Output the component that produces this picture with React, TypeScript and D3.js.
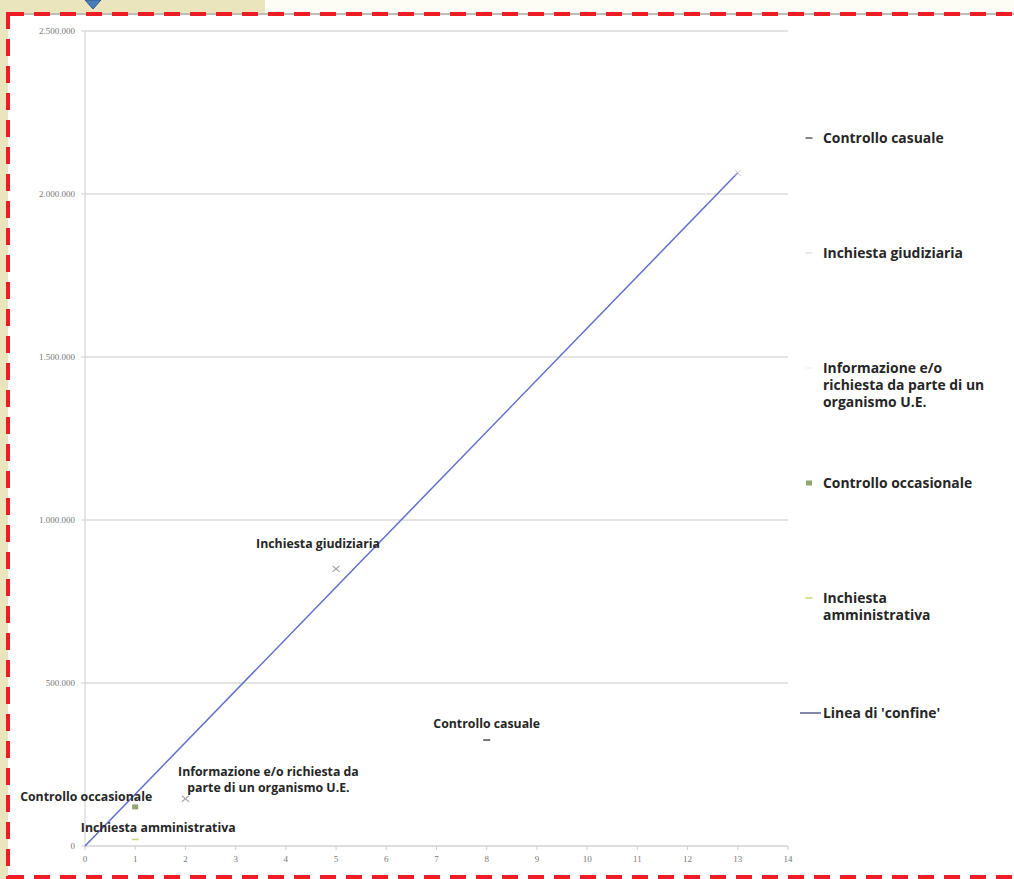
import React from "react";
import * as d3 from "d3";

// ---- data ----
const seriesNames = [
  "Controllo casuale",
  "Inchiesta giudiziaria",
  "Informazione e/o richiesta da parte di un organismo U.E.",
  "Controllo occasionale",
  "Inchiesta amministrativa",
];
const seriesX = [8, 5, 2, 1, 1];
const seriesY = [325000, 850000, 145000, 120000, 20000];
const pointLabelLines = [
  ["Controllo casuale"],
  ["Inchiesta giudiziaria"],
  ["Informazione e/o richiesta da", "parte di un organismo U.E."],
  ["Controllo occasionale"],
  ["Inchiesta amministrativa"],
];
const legendLines = [
  ["Controllo casuale"],
  ["Inchiesta giudiziaria"],
  ["Informazione e/o", "richiesta da parte di un", "organismo U.E."],
  ["Controllo occasionale"],
  ["Inchiesta", "amministrativa"],
];
const lineName = "Linea di 'confine'";
const lineX = [0, 13];
const lineY = [0, 2065000];
const xTicks = d3.range(0, 15);
const yTicks = [0, 500000, 1000000, 1500000, 2000000, 2500000];

// ---- styles ----
const markerType = ["dash", "x", "x", "square", "dash"];
const markerColor = ["#555555", "#9a9a9a", "#a8a8a8", "#93a672", "#c4d77f"];
const legendMarkerColor = ["#666666", "#e2e2e2", "#f4f4f4", "#93a672", "#c4d77f"];
const labelDx = [0, -18, 83, -49, 23];
const labelDy = [-12, -21, -23, -6, -7];

const locale = d3.formatLocale({ decimal: ",", thousands: ".", grouping: [3], currency: ["", ""] });
const fmt = locale.format(",");

function Marker({ type, x, y, color }: { type: string; x: number; y: number; color: string }) {
  if (type === "dash") return <line x1={x - 3.5} x2={x + 3.5} y1={y} y2={y} stroke={color} strokeWidth={1.6} />;
  if (type === "square") return <rect x={x - 3} y={y - 2.5} width={6} height={5} fill={color} />;
  return (
    <g stroke={color} strokeWidth={1.1}>
      <line x1={x - 3.5} y1={y - 3} x2={x + 3.5} y2={y + 3} />
      <line x1={x - 3.5} y1={y + 3} x2={x + 3.5} y2={y - 3} />
    </g>
  );
}

export default function App() {
  const W = 1014, H = 879;
  const x = d3.scaleLinear().domain([0, 14]).range([85, 788]);
  const y = d3.scaleLinear().domain([0, 2500000]).range([846, 31]);
  const line = d3.line<number>().x((d) => x(lineX[d])).y((d) => y(lineY[d]));
  const labelFont = "'Open Sans', Lato, sans-serif";
  const legendY0 = 138, legendStep = 115, legendLH = 17;

  return (
    <svg width={W} height={H} style={{ position: "absolute", left: 0, top: 0 }}>
      {/* slide background */}
      <rect x={0} y={0} width={W} height={H} fill="#ebe5bd" />
      <rect x={265} y={0} width={W - 265} height={14} fill="#fdfdf6" />
      <rect x={8} y={14} width={W - 8} height={H - 14} fill="#ffffff" />
      <polygon points="85,0 101,0 93,9" fill="#4a7ebb" stroke="#2f5597" strokeWidth={1} />
      <line x1={8} x2={W} y1={14} y2={14} stroke="#bdbdbd" strokeWidth={2} />
      <line x1={8} x2={W} y1={14} y2={14} stroke="#ee1c25" strokeWidth={4} strokeDasharray="16,10" />
      <line x1={8} x2={8} y1={12} y2={H} stroke="#ee1c25" strokeWidth={4} strokeDasharray="17,10" />
      <line x1={8} x2={W} y1={877} y2={877} stroke="#ee1c25" strokeWidth={4} strokeDasharray="16,10" />

      {/* gridlines */}
      {yTicks.map((t) => (
        <line key={t} x1={x(0)} x2={x(14)} y1={y(t)} y2={y(t)} stroke={t === 0 ? "#bdbdbd" : "#c9c9c9"} strokeWidth={1} />
      ))}
      <line x1={x(0)} x2={x(0)} y1={y(2500000)} y2={y(0)} stroke="#cfcfcf" strokeWidth={1} />
      {yTicks.map((t) => (
        <g key={"yt" + t}>
          <line x1={x(0) - 4} x2={x(0)} y1={y(t)} y2={y(t)} stroke="#cfcfcf" />
          <text x={x(0) - 10} y={y(t)} dy="0.35em" textAnchor="end" fontSize={9} fontFamily="'Liberation Serif', serif" fill="#777">
            {fmt(t)}
          </text>
        </g>
      ))}
      {xTicks.map((t) => (
        <g key={"xt" + t}>
          <line x1={x(t)} x2={x(t)} y1={y(0)} y2={y(0) + 4} stroke="#cfcfcf" />
          <text x={x(t)} y={y(0) + 16} textAnchor="middle" fontSize={9} fontFamily="'Liberation Serif', serif" fill="#777">
            {t}
          </text>
        </g>
      ))}

      {/* boundary line */}
      <path d={line(d3.range(lineX.length)) || ""} fill="none" stroke="#5f6fc9" strokeWidth={1.5} />
      <g stroke="#c8c8c8" strokeWidth={1}>
        <line x1={x(lineX[1]) - 3} y1={y(lineY[1]) - 3} x2={x(lineX[1]) + 3} y2={y(lineY[1]) + 3} />
        <line x1={x(lineX[1]) - 3} y1={y(lineY[1]) + 3} x2={x(lineX[1]) + 3} y2={y(lineY[1]) - 3} />
      </g>

      {/* points */}
      {seriesNames.map((n, i) => (
        <g key={n}>
          <Marker type={markerType[i]} x={x(seriesX[i])} y={y(seriesY[i])} color={markerColor[i]} />
          {pointLabelLines[i].map((l, j) => (
            <text
              key={j}
              x={x(seriesX[i]) + labelDx[i]}
              y={y(seriesY[i]) + labelDy[i] + j * 16}
              textAnchor="middle"
              fontSize={12.3}
              fontWeight="bold"
              fontFamily={labelFont}
              fill="#262626"
            >
              {l}
            </text>
          ))}
        </g>
      ))}

      {/* legend */}
      {seriesNames.map((n, i) => {
        const ly = legendY0 + i * legendStep;
        return (
          <g key={"lg" + n}>
            <Marker type={markerType[i] === "x" ? "dash" : markerType[i]} x={809} y={ly} color={legendMarkerColor[i]} />
            {legendLines[i].map((l, j) => (
              <text key={j} x={823} y={ly + j * legendLH} dy="0.35em" fontSize={13.9} fontWeight="bold" fontFamily={labelFont} fill="#262626">
                {l}
              </text>
            ))}
          </g>
        );
      })}
      <g>
        <line x1={800} x2={821} y1={legendY0 + 5 * legendStep} y2={legendY0 + 5 * legendStep} stroke="#5a6090" strokeWidth={1.5} />
        <text x={823} y={legendY0 + 5 * legendStep} dy="0.35em" fontSize={13.9} fontWeight="bold" fontFamily={labelFont} fill="#262626">
          {lineName}
        </text>
      </g>
    </svg>
  );
}
